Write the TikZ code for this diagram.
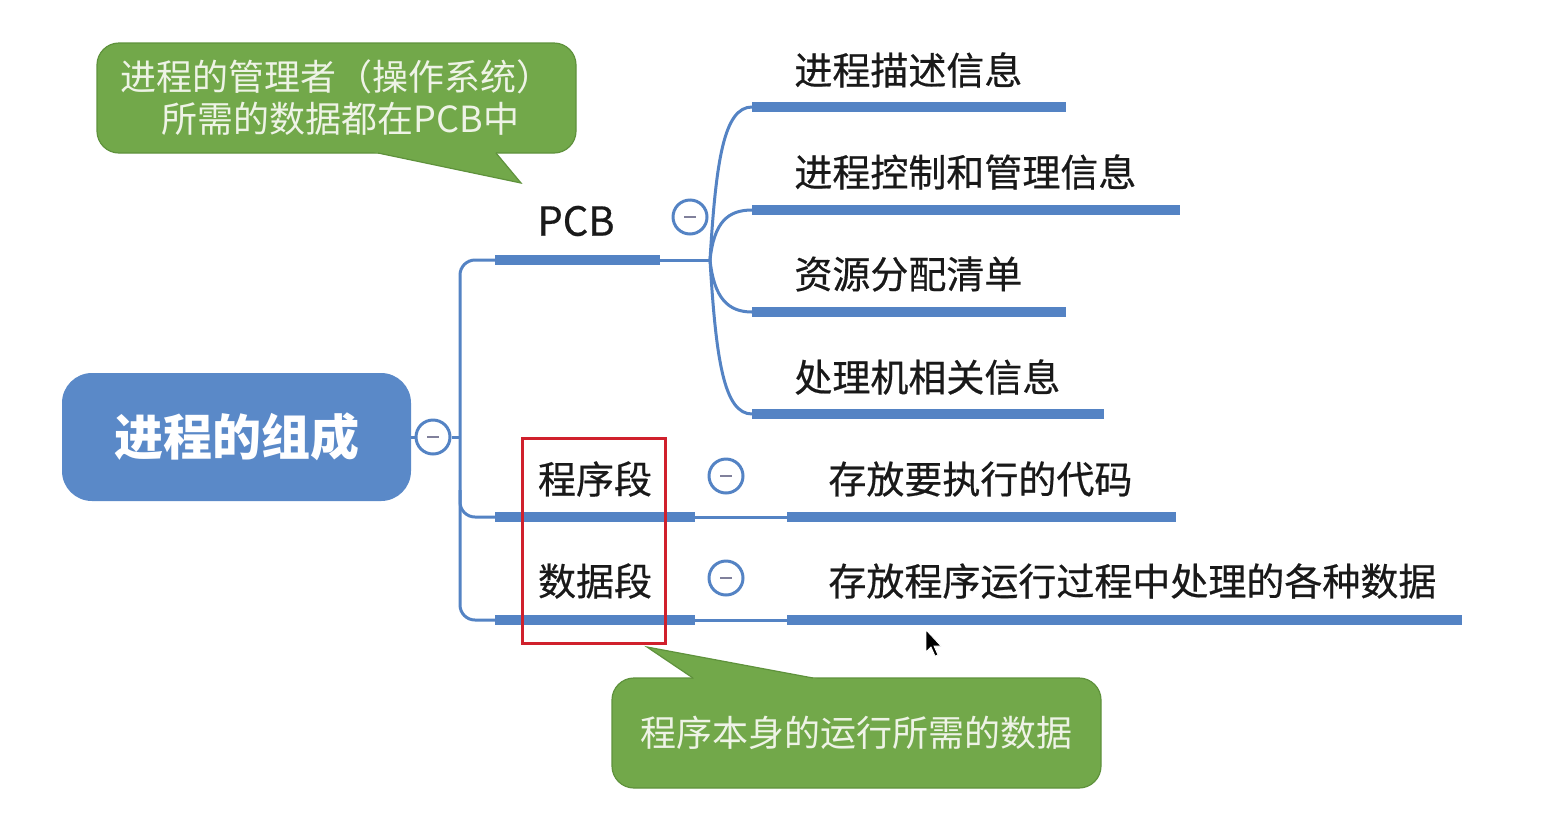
\documentclass[tikz,border=0pt]{standalone}
\usepackage{fontspec}
\setmainfont{Noto Sans CJK SC}
\newfontfamily\medfont{Noto Sans CJK SC}[FakeBold=0.5]
\begin{document}
\begin{tikzpicture}[x=0.5pt,y=-0.5pt]
\definecolor{mblue}{RGB}{84,131,196}
\definecolor{rootblue}{RGB}{90,137,200}
\definecolor{cgreen}{RGB}{114,168,74}
\definecolor{cgreenD}{RGB}{95,146,60}
\definecolor{ctext}{RGB}{238,243,230}
\definecolor{mred}{RGB}{208,32,44}
\definecolor{minusc}{RGB}{128,128,155}
\tikzset{
  bar/.style={mblue, line width=4.6pt},
  thinline/.style={mblue, line width=1.5pt},
  lbl/.style={inner sep=0pt, text=black!90, font=\medfont\fontsize{19pt}{23pt}\selectfont},
  coll/.style={circle, draw=mblue, line width=1.5pt, fill=white, minimum size=17pt, inner sep=0pt,
    path picture={\draw[minusc, line width=1.4pt] ([xshift=-3pt]path picture bounding box.center) -- ([xshift=3pt]path picture bounding box.center);}},
  callout/.style={rounded corners=11pt, fill=cgreen, draw=cgreenD, line width=0.6pt, text=ctext,
    font=\fontsize{18pt}{21pt}\selectfont, align=center, inner sep=0pt},
  rootbox/.style={rounded corners=15pt, fill=rootblue, text=white, inner sep=0pt,
    minimum width=174.5pt, minimum height=64pt, font=\bfseries\fontsize{24.5pt}{28pt}\selectfont}
}
\useasboundingbox (0,0) rectangle (1556,815);
\fill[white] (0,0) rectangle (1556,815);

% root
\node[rootbox] (root) at (236.5,437) {进程的组成};
\node[coll] (croot) at (433,437) {};
\draw[thinline] (root.east) -- (croot.west);

% trunk
\coordinate (tr) at (460,437);
\coordinate (pcbL) at (495,260);
\coordinate (pcbR) at (660,260);
\coordinate (cxL) at (495,517);
\coordinate (cxR) at (695,517);
\coordinate (sjL) at (495,620);
\coordinate (sjR) at (695,620);
\draw[thinline] (croot.east) -- (tr);
\draw[thinline, rounded corners=7.5pt] (pcbL) -- (460,260) -- (460,620) -- (sjL);
\draw[thinline, rounded corners=7.5pt] (460,490) -- (460,517) -- (cxL);
\draw[bar] (pcbL) -- (pcbR);
\draw[bar] (cxL) -- (cxR);
\draw[bar] (sjL) -- (sjR);

% labels of second level
\node[lbl, font=\medfont\fontsize{20pt}{24pt}\selectfont] (pcb) at (576,221) {PCB};
\node[lbl] (cxd) at (595,479) {程序段};
\node[lbl] (sjd) at (595,581) {数据段};
\node[coll] (cpcb) at (690,217) {};
\node[coll] (ccxd) at (726,476) {};
\node[coll] (csjd) at (726,578) {};

% PCB children
\coordinate (J) at (710,260);
\draw[thinline] (pcbR) -- (J);
\coordinate (a1) at (752,107); \coordinate (b1) at (1066,107);
\coordinate (a2) at (752,210); \coordinate (b2) at (1180,210);
\coordinate (a3) at (752,312); \coordinate (b3) at (1066,312);
\coordinate (a4) at (752,414); \coordinate (b4) at (1104,414);
\draw[thinline] (J) .. controls (716,160) and (724,107) .. (a1);
\draw[thinline] (J) .. controls (714,222) and (728,210) .. (a2);
\draw[thinline] (J) .. controls (714,298) and (728,312) .. (a3);
\draw[thinline] (J) .. controls (716,360) and (724,414) .. (a4);
\draw[bar] (a1) -- (b1);
\draw[bar] (a2) -- (b2);
\draw[bar] (a3) -- (b3);
\draw[bar] (a4) -- (b4);
\node[lbl, anchor=west] (t1) at (794,70) {进程描述信息};
\node[lbl, anchor=west] (t2) at (794,172) {进程控制和管理信息};
\node[lbl, anchor=west] (t3) at (794,274) {资源分配清单};
\node[lbl, anchor=west] (t4) at (794,377) {处理机相关信息};

% program / data segment children
\coordinate (c1) at (787,517); \coordinate (d1) at (1176,517);
\coordinate (c2) at (787,620); \coordinate (d2) at (1462,620);
\draw[thinline] (cxR) -- (c1);
\draw[thinline] (sjR) -- (c2);
\draw[bar] (c1) -- (d1);
\draw[bar] (c2) -- (d2);
\node[lbl, anchor=west] (t5) at (828,479) {存放要执行的代码};
\node[lbl, anchor=west] (t6) at (828,581) {存放程序运行过程中处理的各种数据};

% red frame
\node[draw=mred, line width=1.5pt, minimum width=71.5pt, minimum height=102.5pt, inner sep=0pt] (frame) at (593.5,540.5) {};

% top callout
\node[callout, minimum width=239.5pt, minimum height=55pt] (co1) at (336.5,98)
  {进程的管理者（操作系统）\\\ 所需的数据都在PCB中};
\fill[cgreen] (354,148) -- (492,148) -- (521,183) -- cycle;
\draw[cgreenD, line width=0.6pt] (378,153) -- (521,183) -- (496,153);

% bottom callout
\node[callout, minimum width=244.5pt, minimum height=55pt] (co2) at (856.5,733)
  {程序本身的运行所需的数据};
\fill[cgreen] (647,647) -- (702,684) -- (845,684) -- cycle;
\draw[cgreenD, line width=0.6pt] (693,678) -- (647,647) -- (813,678);

% mouse pointer
\filldraw[fill=black, draw=white, line width=0.4pt] (926,630) -- (926,652) -- (931,647) -- (935,656) -- (938,655) -- (934,646) -- (941,646) -- cycle;
\end{tikzpicture}
\end{document}
